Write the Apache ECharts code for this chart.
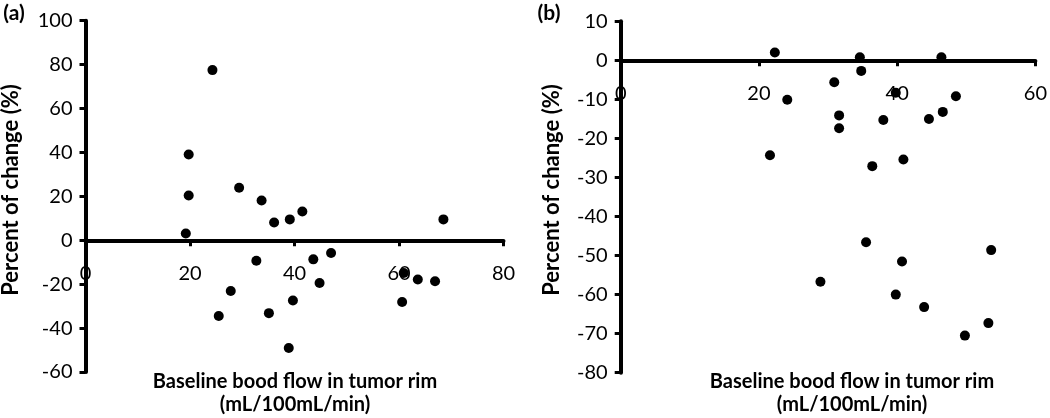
<!DOCTYPE html>
<html>
<head>
<meta charset="utf-8">
<script src="https://cdn.jsdelivr.net/npm/echarts@6/dist/echarts.min.js"></script>
<style>
html,body{margin:0;padding:0;background:#fff;}
#c{width:1050px;height:418px;}
</style>
</head>
<body>
<div id="c"></div>
<script>
// Panel (a)
const xA = [24.3, 19.75, 19.75, 19.2, 29.4, 33.7, 36.1, 39.1, 41.5, 68.5, 32.7, 43.6, 47.0, 27.8, 25.5, 35.1, 39.7, 44.8, 38.9, 60.9, 63.6, 66.9, 60.6];
const yA = [77.5, 39.1, 20.4, 3.1, 23.9, 18.1, 8.1, 9.5, 13.1, 9.5, -9.3, -8.7, -5.8, -23.1, -34.5, -33.2, -27.4, -19.5, -49.1, -14.9, -17.9, -18.7, -28.1];
// Panel (b)
const xB = [22.3, 24.1, 21.6, 30.9, 31.6, 31.6, 34.6, 34.8, 36.4, 38.0, 39.8, 40.9, 44.6, 46.4, 46.6, 48.5, 35.5, 40.7, 28.9, 39.8, 43.9, 53.6, 53.2, 49.8];
const yB = [2.0, -10.1, -24.3, -5.6, -14.1, -17.4, 0.8, -2.7, -27.1, -15.3, -8.3, -25.4, -15.0, 0.8, -13.2, -9.2, -46.6, -51.5, -56.7, -60.0, -63.2, -48.6, -67.3, -70.5];

const panelLabels = ['(a)', '(b)'];
const xName1 = 'Baseline bood flow in tumor rim';
const xName2 = '(mL/100mL/min)';
const yName = 'Percent of change (%)';

const FONT = 'Lato, "Open Sans", sans-serif';
const H = 418;
const grids = [
  {left: 85.5, top: 20.7, right: 546.5, bottom: 46},
  {left: 620.7, top: 21.3, right: 11.7, bottom: 45.3}
];
const yRanges = [[-60, 100, 20], [-80, 10, 10]];
const xRanges = [[80, 20], [60, 20]];
const zip = (xs, ys) => xs.map((x, i) => [x, ys[i]]);

function xAxisCfg(idx) {
  const g = grids[idx], yr = yRanges[idx];
  const gh = H - g.top - g.bottom;
  const off = -gh * (0 - yr[0]) / (yr[1] - yr[0]); // put axis at y = 0
  return {
    type: 'value', gridIndex: idx, min: 0, max: xRanges[idx][0], interval: xRanges[idx][1],
    position: 'bottom', offset: off,
    splitLine: {show: false},
    axisLine: {onZero: false, lineStyle: {color: '#000', width: 4}},
    axisTick: {show: true, length: 6, lineStyle: {color: '#000', width: 3}},
    axisLabel: {color: '#000', fontSize: 20, fontFamily: FONT, margin: 23}
  };
}
function yAxisCfg(idx) {
  const yr = yRanges[idx];
  return {
    type: 'value', gridIndex: idx, min: yr[0], max: yr[1], interval: yr[2],
    splitLine: {show: false},
    axisLine: {onZero: false, lineStyle: {color: '#000', width: 4}},
    axisTick: {show: true, length: 6, lineStyle: {color: '#000', width: 3}},
    axisLabel: {color: '#000', fontSize: 20, fontFamily: FONT, margin: 13}
  };
}
function seriesCfg(idx, data) {
  return {
    type: 'scatter', xAxisIndex: idx, yAxisIndex: idx, data: data,
    symbol: 'circle', symbolSize: 10,
    itemStyle: {color: '#000', opacity: 1}, z: 5
  };
}
function txt(x, y, s, size, extra) {
  return Object.assign({
    type: 'text', x: x, y: y,
    style: {text: s, fill: '#000', font: 'bold ' + size + 'px ' + FONT, textAlign: 'center', textVerticalAlign: 'middle'}
  }, extra || {});
}

const chart = echarts.init(document.getElementById('c'));
chart.setOption({
  backgroundColor: '#fff',
  animation: false,
  grid: grids,
  xAxis: [xAxisCfg(0), xAxisCfg(1)],
  yAxis: [yAxisCfg(0), yAxisCfg(1)],
  series: [seriesCfg(0, zip(xA, yA)), seriesCfg(1, zip(xB, yB))],
  graphic: [
    txt(14, 13, panelLabels[0], 21),
    txt(549, 13, panelLabels[1], 21),
    txt(11, 190, yName, 22, {rotation: Math.PI / 2}),
    txt(552, 190, yName, 22, {rotation: Math.PI / 2}),
    txt(295, 382, xName1, 20),
    txt(295, 405, xName2, 20),
    txt(852, 382, xName1, 20),
    txt(852, 405, xName2, 20)
  ]
});
</script>
</body>
</html>
